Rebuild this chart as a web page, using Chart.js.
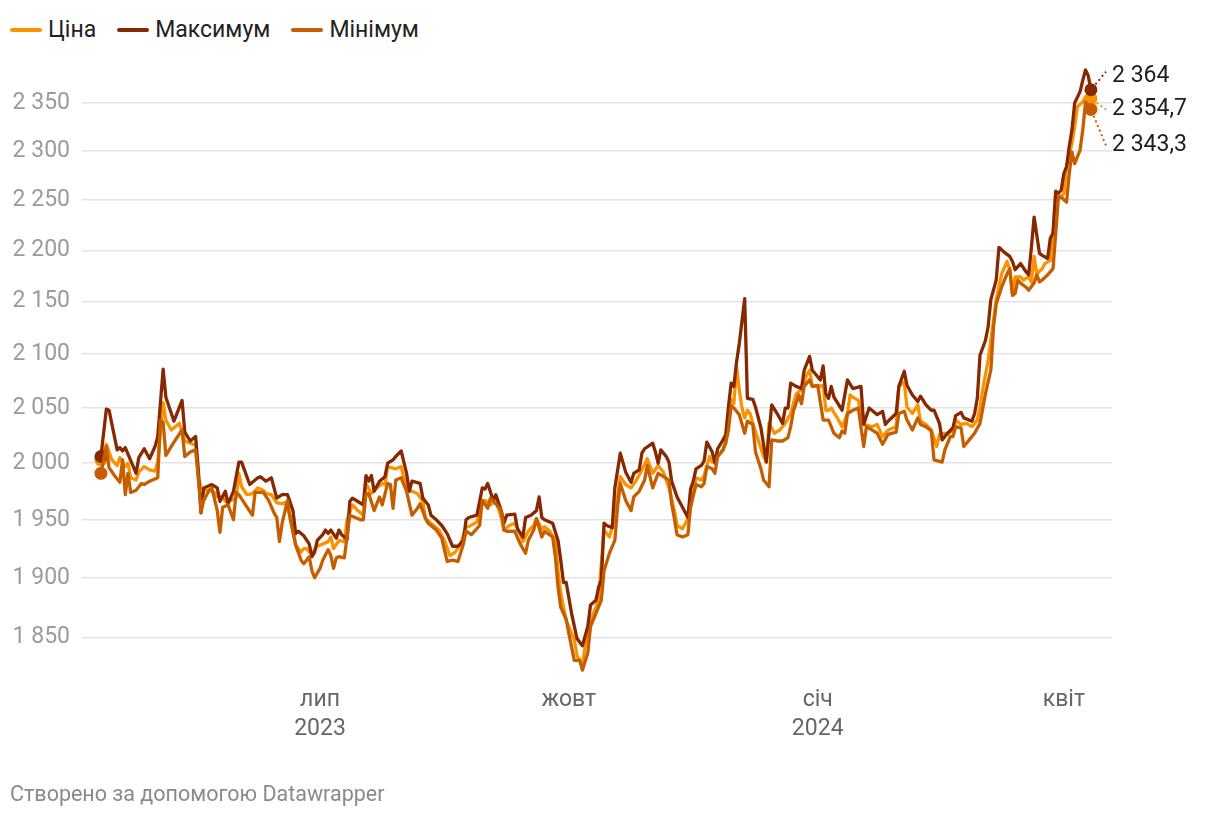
<!DOCTYPE html>
<html lang="uk">
<head>
<meta charset="utf-8">
<title>Ціна золота</title>
<script src="https://cdn.jsdelivr.net/npm/chart.js@4.4.1/dist/chart.umd.min.js"></script>
<style>
  html, body { margin: 0; padding: 0; background: #fff; }
  body {
    width: 1220px; height: 816px; position: relative; overflow: hidden;
    font-family: Roboto, "Noto Sans", sans-serif;
  }
  #legend {
    position: absolute; left: 10px; top: 16px; display: flex; gap: 21px;
    font-size: 23px; line-height: 28px; color: #222;
  }
  #legend .item { display: flex; align-items: center; }
  #legend .swatch { width: 32px; height: 4px; border-radius: 2px; margin-right: 6px; }
  #chart { position: absolute; left: 0; top: 0; }
  #footer { position: absolute; left: 10px; top: 781px; font-size: 21.5px; color: #8a8a8a; }
</style>
</head>
<body>
<div id="legend"></div>
<canvas id="chart" width="1220" height="816"></canvas>
<div id="footer">Створено за допомогою Datawrapper</div>

<script>
// day offsets are counted from 11 Apr 2023
const START_DATE = "2023-04-11";

const seriesNames = ["Ціна", "Максимум", "Мінімум"];
const seriesColors = ["#fb9200", "#862800", "#c65e00"];

const priceDays = [0, 2, 4, 6, 7, 9, 10, 11, 13, 14, 16, 18, 20, 21, 23, 24, 26, 27, 29, 30, 31, 34, 35, 36, 37, 38, 40, 42, 43, 45, 46, 48, 50, 51, 52, 54, 56, 58, 60, 61, 63, 65, 67, 68, 70, 71, 72, 74, 75, 76, 77, 78, 80, 82, 84, 85, 86, 88, 90, 91, 93, 95, 97, 98, 100, 102, 104, 105, 106, 109, 111, 112, 114, 117, 119, 120, 122, 125, 127, 129, 131, 133, 135, 136, 139, 141, 142, 144, 146, 148, 149, 151, 153, 155, 156, 158, 160, 161, 163, 164, 166, 168, 169, 170, 172, 175, 176, 178, 179, 181, 183, 184, 186, 188, 190, 192, 194, 196, 198, 200, 202, 204, 206, 208, 210, 212, 213, 215, 217, 218, 220, 222, 223, 225, 226, 228, 230, 231, 232, 233, 234, 235, 236, 237, 238, 239, 240, 241, 243, 245, 246, 247, 249, 251, 253, 255, 257, 259, 261, 262, 263, 265, 267, 268, 269, 270, 272, 274, 276, 277, 278, 280, 281, 282, 285, 287, 289, 291, 294, 295, 297, 298, 300, 302, 303, 305, 307, 309, 310, 312, 313, 315, 316, 318, 320, 322, 324, 325, 326, 328, 330, 331, 333, 335, 336, 337, 338, 340, 341, 343, 344, 345, 346, 348, 349, 351, 352, 353, 355, 356, 357, 359, 360, 361, 363, 364, 366];
const priceValues = [2003, 2017, 2003, 1998, 2005, 1997, 2000, 1987, 1985, 1992, 1997, 1994, 1993, 2001, 2055, 2039, 2030, 2032, 2036, 2028, 2020, 2017, 2017, 1987, 1978, 1976, 1976, 1974, 1970, 1970, 1966, 1967, 1969, 1991, 1979, 1972, 1973, 1978, 1976, 1973, 1972, 1965, 1964, 1965, 1953, 1941, 1928, 1922, 1925, 1925, 1922, 1921, 1927, 1929, 1931, 1935, 1925, 1932, 1931, 1950, 1963, 1958, 1954, 1982, 1973, 1978, 1982, 1981, 1997, 1995, 1997, 1987, 1976, 1973, 1966, 1951, 1947, 1941, 1932, 1919, 1922, 1929, 1944, 1944, 1948, 1966, 1967, 1963, 1967, 1952, 1941, 1945, 1947, 1938, 1931, 1940, 1945, 1951, 1942, 1944, 1940, 1932, 1906, 1887, 1864, 1848, 1835, 1828, 1842, 1864, 1875, 1883, 1941, 1935, 1952, 1988, 1981, 1978, 1985, 1994, 2004, 1991, 1998, 1992, 1978, 1958, 1945, 1942, 1951, 1961, 1987, 1985, 1989, 2006, 2001, 2006, 2012, 2020, 2039, 2058, 2054, 2088, 2067, 2050, 2041, 2048, 2045, 2036, 2021, 2006, 2001, 2036, 2027, 2030, 2036, 2045, 2063, 2067, 2081, 2085, 2070, 2070, 2071, 2048, 2048, 2050, 2042, 2033, 2045, 2062, 2060, 2057, 2045, 2035, 2033, 2035, 2024, 2030, 2033, 2070, 2074, 2051, 2045, 2053, 2038, 2035, 2030, 2015, 2026, 2027, 2026, 2030, 2039, 2035, 2036, 2033, 2039, 2051, 2067, 2094, 2132, 2152, 2177, 2189, 2181, 2158, 2174, 2174, 2171, 2174, 2169, 2194, 2177, 2182, 2187, 2190, 2217, 2257, 2253, 2257, 2284, 2308, 2325, 2346, 2351, 2357, 2354.7];

const maxDays = [0, 2, 3, 6, 7, 8, 9, 13, 14, 16, 18, 20, 21, 23, 24, 27, 30, 31, 33, 35, 36, 37, 38, 41, 43, 44, 46, 47, 49, 51, 52, 55, 58, 59, 61, 63, 65, 67, 69, 71, 72, 73, 75, 77, 78, 79, 80, 82, 83, 84, 85, 87, 88, 89, 91, 92, 93, 95, 97, 98, 99, 100, 101, 103, 105, 106, 108, 109, 111, 113, 114, 115, 118, 119, 121, 122, 124, 126, 128, 130, 132, 134, 135, 136, 139, 141, 142, 143, 145, 146, 148, 149, 150, 153, 154, 156, 157, 159, 161, 162, 163, 164, 167, 169, 170, 171, 172, 174, 176, 178, 180, 181, 183, 184, 185, 186, 187, 189, 190, 192, 194, 196, 197, 199, 200, 201, 204, 205, 206, 207, 209, 210, 211, 213, 215, 217, 218, 219, 220, 222, 223, 224, 226, 227, 228, 230, 231, 232, 233, 234, 235, 236, 238, 239, 241, 242, 244, 246, 248, 250, 252, 253, 254, 255, 257, 259, 260, 262, 263, 265, 266, 267, 268, 269, 270, 271, 274, 276, 278, 281, 282, 284, 285, 287, 289, 290, 291, 294, 295, 297, 298, 300, 302, 303, 305, 307, 308, 310, 311, 313, 315, 316, 318, 319, 322, 323, 324, 325, 327, 328, 329, 331, 332, 334, 336, 337, 338, 340, 342, 343, 344, 345, 347, 348, 350, 351, 352, 353, 354, 355, 356, 357, 358, 359, 360, 362, 363, 364, 365, 366];
const maxValues = [2006, 2049, 2048, 2012, 2014, 2011, 2014, 1991, 2005, 2013, 2004, 2015, 2024, 2086, 2060, 2038, 2057, 2028, 2020, 2024, 1994, 1956, 1978, 1981, 1978, 1966, 1975, 1964, 1975, 2001, 2001, 1981, 1987, 1988, 1984, 1987, 1969, 1972, 1972, 1958, 1938, 1940, 1936, 1929, 1918, 1922, 1932, 1937, 1941, 1938, 1941, 1934, 1941, 1937, 1933, 1966, 1969, 1966, 1963, 1989, 1984, 1989, 1975, 1984, 1988, 2000, 2003, 2006, 2011, 1991, 1975, 1984, 1982, 1969, 1963, 1954, 1950, 1945, 1938, 1927, 1927, 1932, 1950, 1952, 1954, 1978, 1977, 1982, 1967, 1972, 1958, 1947, 1954, 1955, 1942, 1935, 1952, 1954, 1958, 1970, 1952, 1950, 1947, 1932, 1915, 1896, 1896, 1870, 1849, 1843, 1859, 1877, 1881, 1892, 1898, 1947, 1945, 1943, 1978, 2009, 1992, 1983, 1991, 1994, 2009, 2013, 2018, 2010, 2000, 2012, 2006, 2001, 1984, 1970, 1961, 1952, 1977, 1984, 1995, 1998, 2002, 2019, 2010, 2000, 2013, 2021, 2026, 2051, 2073, 2070, 2093, 2110, 2153, 2059, 2058, 2051, 2032, 2001, 2053, 2045, 2036, 2050, 2050, 2073, 2070, 2068, 2085, 2098, 2085, 2079, 2076, 2089, 2063, 2059, 2070, 2060, 2048, 2076, 2068, 2070, 2035, 2050, 2048, 2044, 2047, 2035, 2038, 2045, 2070, 2084, 2071, 2062, 2056, 2061, 2053, 2048, 2048, 2036, 2021, 2027, 2032, 2043, 2046, 2041, 2038, 2045, 2059, 2099, 2113, 2126, 2152, 2171, 2203, 2198, 2194, 2189, 2181, 2187, 2179, 2176, 2203, 2233, 2197, 2195, 2192, 2212, 2217, 2259, 2257, 2260, 2277, 2284, 2305, 2322, 2350, 2362, 2374, 2385, 2379, 2364];

const minDays = [0, 2, 3, 5, 7, 8, 9, 10, 11, 13, 15, 16, 18, 21, 22, 23, 24, 27, 30, 31, 33, 35, 36, 37, 38, 40, 41, 43, 44, 45, 47, 49, 50, 51, 54, 56, 57, 60, 62, 64, 65, 66, 67, 69, 70, 72, 74, 75, 77, 78, 79, 81, 82, 84, 85, 86, 87, 88, 90, 92, 94, 96, 97, 98, 99, 101, 103, 104, 106, 107, 108, 109, 111, 113, 115, 117, 118, 120, 121, 124, 126, 128, 130, 132, 134, 135, 137, 140, 141, 143, 144, 146, 148, 149, 150, 153, 155, 157, 158, 160, 161, 163, 164, 167, 168, 169, 170, 172, 173, 175, 177, 178, 180, 181, 183, 185, 186, 188, 190, 191, 192, 194, 196, 197, 199, 201, 202, 204, 206, 208, 210, 211, 212, 213, 215, 217, 218, 220, 222, 223, 224, 226, 227, 228, 230, 231, 232, 233, 234, 236, 238, 239, 241, 242, 244, 245, 247, 248, 250, 252, 254, 255, 256, 258, 259, 260, 262, 263, 265, 267, 269, 270, 271, 273, 274, 275, 276, 278, 280, 282, 283, 285, 287, 289, 291, 294, 295, 297, 298, 300, 302, 303, 305, 307, 308, 311, 312, 314, 315, 316, 318, 319, 321, 323, 325, 327, 329, 330, 331, 333, 335, 336, 337, 338, 339, 340, 342, 343, 345, 346, 347, 348, 350, 352, 353, 354, 355, 357, 358, 359, 360, 362, 363, 364, 366];
const minValues = [1991, 2015, 1996, 1989, 1983, 2003, 1972, 1991, 1974, 1976, 1982, 1981, 1984, 1987, 2039, 2037, 2007, 2019, 2030, 2006, 2010, 2012, 1987, 1957, 1967, 1976, 1978, 1958, 1939, 1961, 1963, 1950, 1974, 1972, 1961, 1954, 1974, 1974, 1967, 1956, 1952, 1931, 1947, 1967, 1950, 1928, 1915, 1912, 1918, 1906, 1900, 1908, 1915, 1924, 1919, 1908, 1917, 1918, 1917, 1954, 1952, 1950, 1950, 1973, 1973, 1958, 1970, 1963, 1982, 1981, 1960, 1985, 1987, 1975, 1954, 1960, 1964, 1951, 1947, 1941, 1934, 1914, 1915, 1914, 1929, 1940, 1937, 1945, 1967, 1960, 1969, 1964, 1958, 1941, 1940, 1940, 1929, 1921, 1932, 1941, 1951, 1935, 1940, 1935, 1918, 1892, 1875, 1865, 1853, 1831, 1831, 1823, 1837, 1859, 1870, 1881, 1906, 1921, 1932, 1961, 1982, 1967, 1958, 1970, 1975, 1985, 1998, 1978, 1991, 1988, 1985, 1964, 1951, 1937, 1935, 1937, 1961, 1981, 1979, 1982, 1997, 1995, 1991, 2006, 2012, 2018, 2030, 2052, 2050, 2044, 2027, 2038, 2035, 2010, 1995, 1985, 1979, 2021, 2020, 2020, 2023, 2033, 2047, 2062, 2054, 2070, 2076, 2070, 2071, 2039, 2039, 2033, 2027, 2023, 2029, 2027, 2045, 2048, 2050, 2015, 2033, 2030, 2027, 2017, 2026, 2028, 2045, 2047, 2039, 2030, 2041, 2035, 2033, 2029, 2003, 2001, 2012, 2024, 2024, 2033, 2032, 2015, 2021, 2027, 2036, 2063, 2085, 2126, 2148, 2164, 2177, 2182, 2156, 2158, 2171, 2168, 2164, 2161, 2168, 2176, 2169, 2171, 2176, 2182, 2217, 2253, 2253, 2248, 2277, 2299, 2287, 2301, 2322, 2351, 2343.3];

const yTickValues = [1850, 1900, 1950, 2000, 2050, 2100, 2150, 2200, 2250, 2300, 2350];
const xTickDates = ["2023-07-01", "2023-10-01", "2024-01-01", "2024-04-01"];
const xTickLabels = [["лип", "2023"], ["жовт"], ["січ", "2024"], ["квіт"]];

const DAY_MS = 86400000;
const dayOffset = (iso) => (Date.parse(iso) - Date.parse(START_DATE)) / DAY_MS;
const xTickDays = xTickDates.map(dayOffset);

function formatNumber(value) {
  const [intPart, frac] = String(value).split(".");
  const grouped = intPart.replace(/\B(?=(\d{3})+(?!\d))/g, " ");
  return frac ? `${grouped},${frac}` : grouped;
}

// legend in html, top left
const legend = document.getElementById("legend");
seriesNames.forEach((name, i) => {
  const item = document.createElement("div");
  item.className = "item";
  item.innerHTML = `<span class="swatch" style="background:${seriesColors[i]}"></span><span>${name}</span>`;
  legend.appendChild(item);
});

const FONT = "Roboto, 'Noto Sans', sans-serif";

// vertical shift of each end label from its last point
const endLabelShift = [11, -14, 36];

const endLabels = {
  id: "endLabels",
  afterDatasetsDraw(chart) {
    const { ctx, chartArea } = chart;
    ctx.save();
    chart.data.datasets.forEach((ds, i) => {
      const meta = chart.getDatasetMeta(i);
      const pt = meta.data[meta.data.length - 1];
      const labelY = pt.y + endLabelShift[i];
      const tx = chartArea.right - 6;
      const ty = labelY - (i === 1 ? 4 : 0);
      const dx = tx - pt.x;
      const dy = ty - pt.y;
      const len = Math.hypot(dx, dy) || 1;
      ctx.beginPath();
      ctx.setLineDash([2, 3]);
      ctx.lineWidth = 2;
      ctx.strokeStyle = ds.borderColor;
      ctx.moveTo(pt.x + (dx / len) * 7, pt.y + (dy / len) * 7);
      ctx.lineTo(tx, ty);
      ctx.stroke();
      ctx.setLineDash([]);
      ctx.fillStyle = "#1e1e1e";
      ctx.font = `23px ${FONT}`;
      ctx.textAlign = "left";
      ctx.textBaseline = "middle";
      const values = ds.data;
      ctx.fillText(formatNumber(values[values.length - 1].y), chartArea.right, labelY);
    });
    ctx.restore();
  },
};

function makeDataset(i, days, values, order) {
  const last = days.length - 1;
  return {
    label: seriesNames[i],
    data: days.map((d, k) => ({ x: d, y: values[k] })),
    borderColor: seriesColors[i],
    backgroundColor: seriesColors[i],
    borderWidth: 3.3,
    borderJoinStyle: "round",
    borderCapStyle: "round",
    tension: 0,
    pointRadius: (c) => (c.dataIndex === 0 || c.dataIndex === last ? 6.5 : 0),
    pointBorderWidth: 0,
    pointHoverRadius: 0,
    order,
    clip: false,
  };
}

new Chart(document.getElementById("chart"), {
  type: "line",
  data: {
    datasets: [
      makeDataset(0, priceDays, priceValues, 3),
      makeDataset(1, maxDays, maxValues, 2),
      makeDataset(2, minDays, minValues, 1),
    ],
  },
  options: {
    responsive: false,
    animation: false,
    devicePixelRatio: 1,
    layout: { padding: { top: 56, right: 108, bottom: 66, left: 0 } },
    plugins: { legend: { display: false }, tooltip: { enabled: false } },
    scales: {
      x: {
        type: "linear",
        min: -7,
        max: 373.8,
        grid: { display: false },
        border: { display: false },
        afterBuildTicks: (scale) => {
          scale.ticks = xTickDays.map((value) => ({ value }));
        },
        afterFit: (scale) => {
          scale.height = 70;
        },
        ticks: {
          autoSkip: false,
          maxRotation: 0,
          padding: -2,
          color: "#666",
          font: { family: FONT, size: 23, lineHeight: 1.25 },
          callback: (value, index) => xTickLabels[index],
        },
      },
      y: {
        type: "logarithmic",
        min: 1815,
        max: 2400,
        border: { display: false },
        grid: { color: "#e3e3e3", lineWidth: 1.5, drawTicks: false },
        afterBuildTicks: (scale) => {
          scale.ticks = yTickValues.map((value) => ({ value }));
        },
        afterFit: (scale) => {
          scale.width = 82;
        },
        ticks: {
          padding: 12,
          color: "#9b9b9b",
          font: { family: FONT, size: 23 },
          callback: (value) => formatNumber(value),
        },
      },
    },
  },
  plugins: [endLabels],
});
</script>
</body>
</html>
